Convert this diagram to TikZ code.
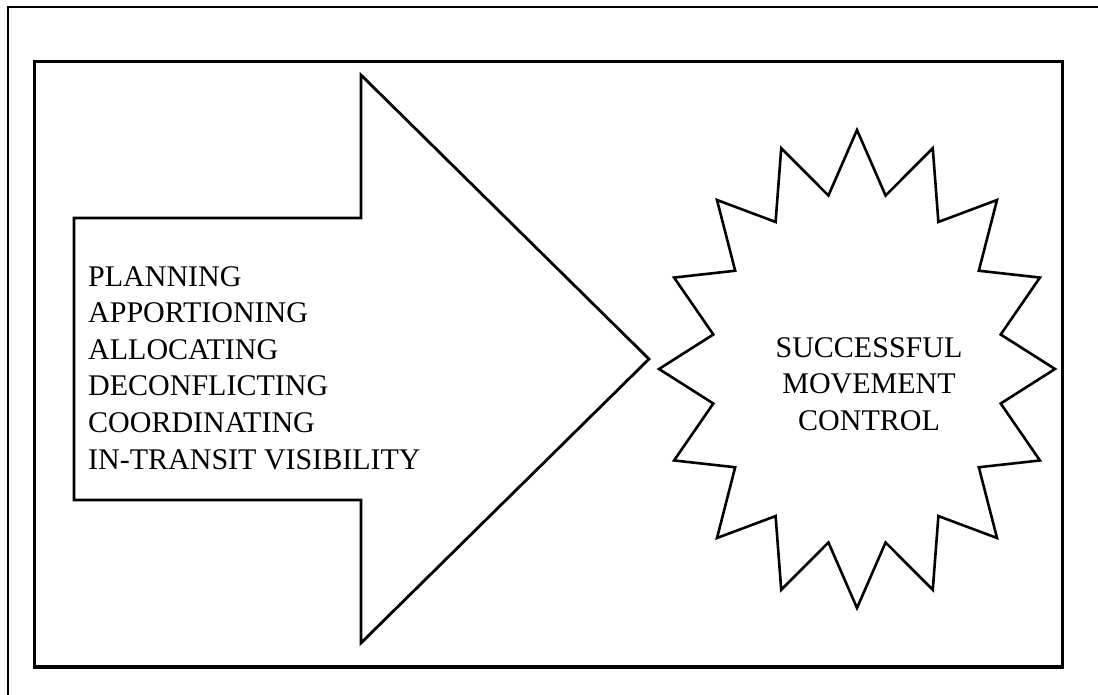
\documentclass[tikz,border=0pt]{standalone}
\usepackage{fontspec}
\setmainfont{Liberation Serif}
\begin{document}
\begin{tikzpicture}[x=1pt,y=-1pt,
  frameline/.style={line width=2pt},
  boxline/.style={line width=3.2pt},
  shapeline/.style={line width=2.8pt, line join=miter},
  label/.style={inner sep=0pt, font=\fontsize{30}{36.6}\selectfont}]
\useasboundingbox (0,0) rectangle (1098,694);
% outer frame (only top and left visible)
\coordinate (fbl) at (8,710);
\coordinate (ftl) at (8,7);
\coordinate (ftr) at (1110,7);
\draw[frameline] (fbl) -- (ftl) -- (ftr);
% inner box
\coordinate (bnw) at (34.5,61.5);
\coordinate (bse) at (1062.5,667);
\draw[boxline] (bnw) rectangle (bse);
% big arrow
\coordinate (a1) at (74,218);
\coordinate (a2) at (361,218);
\coordinate (a3) at (361,75);
\coordinate (a4) at (649,359);
\coordinate (a5) at (361,643);
\coordinate (a6) at (361,500);
\coordinate (a7) at (74,500);
\draw[shapeline] (a1) -- (a2) -- (a3) -- (a4) -- (a5) -- (a6) -- (a7) -- cycle;
\node[label, anchor=north west, align=left] (tasks) at (88,266)
  {PLANNING\\APPORTIONING\\ALLOCATING\\DECONFLICTING\\COORDINATING\\IN-TRANSIT VISIBILITY};
% star
\coordinate (sc) at (857,369);
\draw[line width=2.6pt, line join=miter] (857,130)
  \foreach \i [evaluate=\i as \f using {isodd(\i) ? 0.74 : 1}] in {1,...,31} {
    -- ({857+198*\f*sin(\i*11.25)},{369-239*\f*cos(\i*11.25)})
  } -- cycle;
\node[label, anchor=north, align=center] (goal) at (869,337)
  {SUCCESSFUL\\MOVEMENT\\CONTROL};
\end{tikzpicture}
\end{document}
